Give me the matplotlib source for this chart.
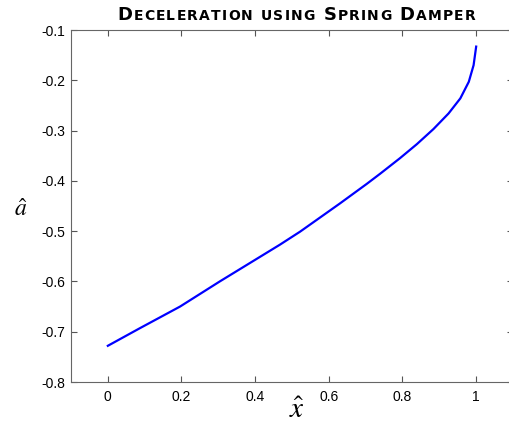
import matplotlib
matplotlib.use('Agg')
import matplotlib.pyplot as plt
from matplotlib.transforms import IdentityTransform

# values
x_hat = [0.0, 0.087, 0.196, 0.304, 0.467, 0.522, 0.630, 0.703, 0.739, 0.793,
         0.839, 0.884, 0.925, 0.957, 0.980, 0.993, 1.0]
a_hat = [-0.728, -0.693, -0.650, -0.600, -0.527, -0.501, -0.445, -0.406, -0.386,
         -0.355, -0.327, -0.297, -0.266, -0.236, -0.203, -0.170, -0.133]

x_ticks = [0, 0.2, 0.4, 0.6, 0.8, 1.0]
x_tick_labels = ['0', '0.2', '0.4', '0.6', '0.8', '1']
y_ticks = [-0.8, -0.7, -0.6, -0.5, -0.4, -0.3, -0.2, -0.1]
y_tick_labels = ['-0.8', '-0.7', '-0.6', '-0.5', '-0.4', '-0.3', '-0.2', '-0.1']

# title in small caps: (text, big letter?), None = word gap
title_parts = [('D', True), ('ECELERATION', False), (' ', None), ('USING', False),
               (' ', None), ('S', True), ('PRING', False), (' ', None),
               ('D', True), ('AMPER', False)]

plt.rcParams['font.family'] = 'Liberation Sans'
plt.rcParams['mathtext.fontset'] = 'stix'
plt.rcParams['axes.unicode_minus'] = False

W, H = 510, 429
fig = plt.figure(figsize=(W / 100, H / 100), dpi=100)
ax = fig.add_axes([71 / W, (H - 382) / H, (513 - 71) / W, (382 - 30) / H])

ax.plot(x_hat, a_hat, color='#0000ff', linewidth=1.6)

ax.set_xlim(-0.1, 1.1)
ax.set_ylim(-0.8, -0.1)
ax.set_xticks(x_ticks)
ax.set_xticklabels(x_tick_labels)
ax.set_yticks(y_ticks)
ax.set_yticklabels(y_tick_labels)
ax.tick_params(direction='in', length=4, width=0.8, color='#555555',
               top=True, right=True, labelsize=10, pad=4)
ax.tick_params(axis='x', pad=6)
for sp in ax.spines.values():
    sp.set_color('#666666')
    sp.set_linewidth(0.8)
ax.spines['right'].set_visible(False)

ax.set_xlabel(r'$\hat{x}$', fontsize=21)
ax.xaxis.set_label_coords(0.511, -0.04)
ax.set_ylabel(r'$\hat{a}$', fontsize=17, rotation=0, ha='center', va='center')
ax.yaxis.set_label_coords(-0.115, 0.49)

# small caps title built letter by letter, centered at pixel 297
fig.canvas.draw()
renderer = fig.canvas.get_renderer()
track = 1.2
gap = 7
pieces = []
total = 0
for s, big in title_parts:
    if big is None:
        pieces.append((None, gap))
        total += gap
        continue
    for ch in s:
        t = fig.text(0, 0, ch, fontsize=13 if big else 10, fontweight='bold',
                     fontfamily='DejaVu Sans', transform=IdentityTransform(),
                     va='baseline', ha='left')
        w = t.get_window_extent(renderer).width + track
        pieces.append((t, w))
        total += w
x = 297 - total / 2
for t, w in pieces:
    if t is not None:
        t.set_position((x, H - 19.5))
    x += w

fig.savefig('out.png', dpi=100)
